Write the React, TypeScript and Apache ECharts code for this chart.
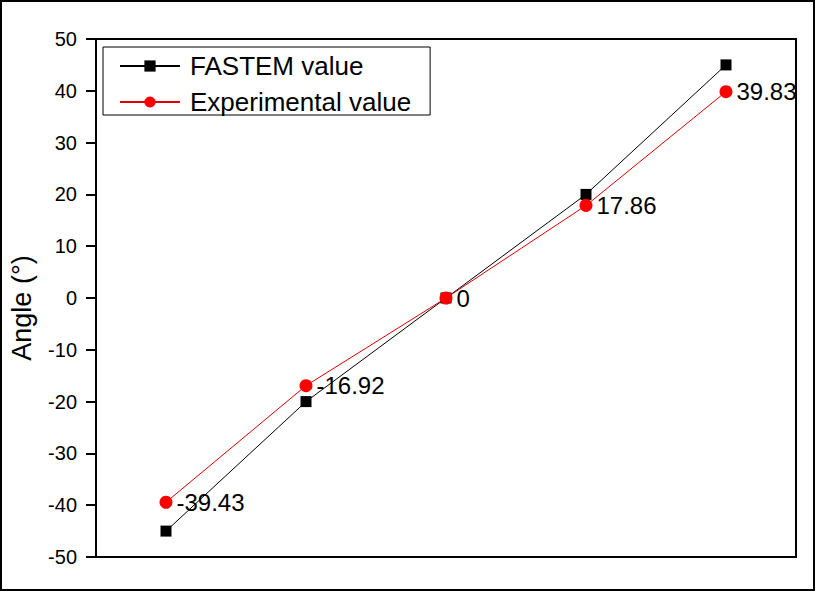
import React, { useEffect, useRef } from "react";
import * as echarts from "echarts";

const categories = ["P1", "P2", "P3", "P4", "P5"];
const fastemValues = [-45, -20, 0, 20, 45];
const experimentalValues = [-39.43, -16.92, 0, 17.86, 39.83];
const yTicks = { min: -50, max: 50, interval: 10 };
const FONT = "'Liberation Sans', Arial, sans-serif";

export default function App() {
  const ref = useRef<HTMLDivElement>(null);
  useEffect(() => {
    if (!ref.current) return;
    const chart = echarts.init(ref.current, null, { renderer: "svg" });
    chart.setOption({
      animation: false,
      backgroundColor: "#ffffff",
      textStyle: { fontFamily: FONT },
      grid: {
        left: 96,
        top: 39,
        right: 21,
        bottom: 35,
        show: true,
        borderColor: "#000",
        borderWidth: 2,
        backgroundColor: "transparent",
      },
      legend: {
        orient: "vertical",
        left: 103,
        top: 47,
        backgroundColor: "#fff",
        borderColor: "#000",
        borderWidth: 1,
        borderRadius: 0,
        padding: [6, 19, 0, 16],
        itemGap: 10,
        itemWidth: 60,
        itemHeight: 14,
        textStyle: {
          fontFamily: FONT,
          fontSize: 26,
          color: "#000",
          lineHeight: 24,
          padding: [0, 0, 0, 5],
        },
        data: ["FASTEM value", "Experimental value"],
      },
      xAxis: {
        type: "category",
        data: categories,
        boundaryGap: true,
        axisLine: { show: false },
        axisTick: { show: false },
        axisLabel: { show: false },
        splitLine: { show: false },
      },
      yAxis: {
        type: "value",
        min: yTicks.min,
        max: yTicks.max,
        interval: yTicks.interval,
        axisLine: { show: false },
        axisTick: {
          show: true,
          inside: false,
          length: 10,
          lineStyle: { color: "#000", width: 2 },
        },
        axisLabel: {
          fontFamily: FONT,
          fontSize: 20,
          color: "#000",
          margin: 19,
        },
        splitLine: { show: false },
      },
      graphic: [
        {
          type: "rect",
          shape: { x: 1, y: 1, width: 813, height: 589 },
          style: { fill: "none", stroke: "#000", lineWidth: 2 },
          silent: true,
        },
        {
          type: "text",
          x: 22,
          y: 308,
          rotation: Math.PI / 2,
          style: {
            text: "Angle (°)",
            fontFamily: FONT,
            fontSize: 27,
            fill: "#000",
            align: "center",
            verticalAlign: "middle",
          },
        },
      ],
      series: [
        {
          name: "FASTEM value",
          type: "line",
          data: fastemValues,
          symbol: "rect",
          symbolSize: 11,
          itemStyle: { color: "#000" },
          lineStyle: { color: "#000", width: 1 },
        },
        {
          name: "Experimental value",
          type: "line",
          data: experimentalValues,
          symbol: "circle",
          symbolSize: 13,
          itemStyle: { color: "#ff0000" },
          lineStyle: { color: "#e00000", width: 1 },
          label: {
            show: true,
            position: "right",
            distance: 4,
            fontFamily: FONT,
            fontSize: 24,
            color: "#000",
          },
        },
      ],
    });
    return () => chart.dispose();
  }, []);
  return (
    <div
      ref={ref}
      style={{ position: "fixed", left: 0, top: 0, width: 817, height: 592 }}
    />
  );
}
